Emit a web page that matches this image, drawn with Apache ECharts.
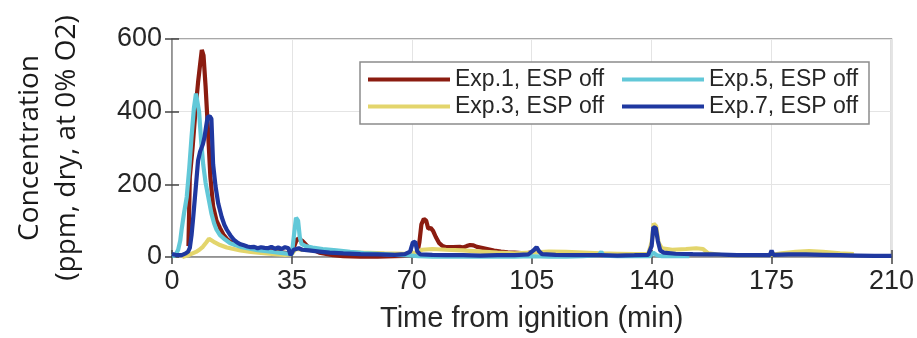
<!DOCTYPE html>
<html>
<head>
<meta charset="utf-8">
<script src="https://cdn.jsdelivr.net/npm/echarts@6/dist/echarts.min.js"></script>
<style>
  html, body { margin: 0; padding: 0; background: #fff; }
  #chart { width: 917px; height: 338px; }
</style>
</head>
<body>
<div id="chart"></div>
<script>
// Exp.1, ESP off
const t1 = [4.8, 5.2, 6, 7, 7.6, 8.2, 8.7, 9.2, 9.8, 10.5, 11.2, 12, 13, 14, 15, 16, 17, 18, 20, 22, 25, 28, 31, 34, 35, 36.5, 38, 40, 43, 47, 50, 55, 60, 65, 68, 70, 71.5, 72.2, 72.8, 73.5, 74.2, 74.8, 75.5, 76.2, 77, 78, 79, 80, 82, 84, 85, 86, 87, 88, 89, 90, 92, 94, 96, 98, 100, 102, 103.5, 104.5, 105];
const c1 = [30, 220, 300, 420, 480, 530, 570, 555, 470, 350, 220, 140, 100, 80, 62, 50, 42, 36, 30, 26, 22, 18, 14, 10, 12, 50, 45, 25, 12, 5, 2, 1, 1, 2, 3, 4, 6, 40, 90, 105, 100, 78, 80, 72, 55, 38, 30, 27, 27, 28, 26, 30, 33, 32, 28, 26, 22, 18, 15, 13, 12, 11, 10, 12, 9];

// Exp.3, ESP off
const t3 = [3, 4.5, 6, 7, 8, 9, 10, 10.8, 11.5, 12.5, 14, 16, 18, 20, 23, 26, 30, 33, 35, 36, 38, 42, 48, 55, 62, 68, 71, 73, 76, 80, 85, 90, 95, 100, 105, 110, 115, 120, 125, 130, 135, 139, 140, 140.6, 141.3, 142, 143, 146, 150, 153, 155, 156.5, 160, 165, 170, 175, 178, 182, 186, 190, 195, 199];
const c3 = [0, 4, 10, 14, 20, 28, 40, 50, 46, 40, 33, 26, 22, 18, 14, 11, 8, 6, 8, 22, 20, 18, 15, 12, 10, 9, 12, 20, 22, 20, 18, 15, 12, 10, 12, 15, 14, 12, 10, 9, 8, 8, 40, 92, 85, 40, 24, 20, 22, 24, 22, 10, 6, 5, 5, 6, 10, 14, 16, 14, 10, 8];

// Exp.5, ESP off
const t5 = [0, 1, 1.8, 2.4, 2.8, 3.5, 4.3, 5, 5.7, 6.4, 7, 7.4, 7.9, 8.5, 9.1, 9.8, 10.6, 11.5, 12.3, 13, 14, 15.5, 17, 18.5, 20, 22, 25, 27.6, 30, 33, 35, 35.6, 36.2, 36.8, 37.3, 37.8, 39, 41, 44, 48, 52, 56, 60, 65, 70, 72, 76, 80, 90, 100, 105, 110, 115, 120, 124.5, 125.3, 126, 130, 135, 139.5, 140.5, 141.5, 143, 146, 151];
const c5 = [2, 5, 20, 45, 75, 120, 165, 240, 330, 410, 450, 455, 400, 320, 255, 205, 165, 120, 92, 75, 60, 48, 38, 33, 28, 24, 19, 16, 13, 10, 8, 60, 108, 100, 55, 36, 30, 26, 22, 18, 14, 11, 9, 6, 4, 2, 1, 1, 1, 1, 2, 1, 1, 2, 5, 14, 4, 2, 2, 2, 12, 5, 2, 2, 2];

// Exp.7, ESP off
const t7 = [0, 1, 2, 3, 4, 4.7, 5.2, 5.7, 6.2, 6.7, 7.2, 7.6, 8.2, 9, 9.5, 10, 10.4, 11, 11.5, 12, 12.7, 13.5, 14.5, 15.3, 16, 17, 18, 19, 20, 21, 22, 23, 24, 25, 26, 27, 28, 29, 30, 31, 32, 33, 34, 34.6, 35, 35.5, 36, 37, 38, 40, 43, 46, 50, 55, 60, 65, 68, 69.5, 70.3, 71, 71.6, 72.5, 76, 80, 85, 90, 95, 100, 104, 105.5, 106.4, 107.2, 108, 112, 118, 125, 130, 135, 139, 140, 140.5, 141.2, 141.8, 142.5, 143.5, 147, 152, 158, 165, 170, 174.5, 175, 175.5, 180, 185, 190, 195, 200, 205, 210];
const c7 = [8, 6, 5, 6, 10, 15, 25, 60, 110, 165, 220, 265, 290, 310, 330, 362, 385, 388, 380, 255, 195, 147, 110, 88, 75, 60, 48, 40, 35, 32, 29, 27, 28, 24, 27, 25, 24, 28, 23, 26, 22, 27, 24, 5, 2, 20, 22, 24, 20, 18, 15, 12, 10, 8, 7, 6, 8, 15, 40, 42, 15, 7, 6, 5, 5, 4, 5, 5, 7, 18, 27, 15, 8, 6, 5, 5, 4, 5, 6, 30, 82, 80, 45, 18, 12, 9, 8, 7, 5, 5, 5, 18, 6, 7, 7, 6, 5, 4, 3, 3];

const xTicks = [0, 35, 70, 105, 140, 175, 210];
const yTicks = [0, 200, 400, 600];

const names = ["Exp.1, ESP off", "Exp.3, ESP off", "Exp.5, ESP off", "Exp.7, ESP off"];
const colors = ["#8b1c10", "#e3d56c", "#62c8d8", "#1f38a0"];

function pairs(t, c) {
  return t.map((x, i) => [x, c[i]]);
}

const font = "Liberation Sans, Arial, sans-serif";
const chart = echarts.init(document.getElementById("chart"));

const lineSeries = [[t1, c1], [t3, c3], [t5, c5], [t7, c7]].map((d, i) => ({
  type: "line",
  name: names[i],
  data: pairs(d[0], d[1]),
  showSymbol: false,
  lineStyle: { color: colors[i], width: 4.2 },
  itemStyle: { color: colors[i] },
  animation: false,
}));

const option = {
  animation: false,
  grid: {
    left: 172, right: 25, top: 39, bottom: 77,
    show: true, borderColor: "#8c8c8c", borderWidth: 1.5,
  },
  xAxis: [
    {
      type: "value",
      min: 0, max: 210, interval: 35,
      name: "Time from ignition (min)",
      nameLocation: "middle",
      nameGap: 47,
      nameTextStyle: { fontFamily: font, fontSize: 29, color: "#262626" },
      axisLine: { show: true, lineStyle: { color: "#8c8c8c", width: 1.5 } },
      axisTick: { show: true, inside: true, length: 7, lineStyle: { color: "#444", width: 1.5 } },
      axisLabel: { fontFamily: font, fontSize: 27, color: "#262626", margin: 11,
        formatter: (v) => xTicks.includes(v) ? String(v) : "" },
      splitLine: { show: true, lineStyle: { color: "#e4e4e4", width: 1 } },
    },
    {
      type: "value", position: "top",
      min: 0, max: 210, interval: 35,
      axisLine: { show: false },
      axisTick: { show: true, inside: true, length: 7, lineStyle: { color: "#444", width: 1.5 } },
      axisLabel: { show: false },
      splitLine: { show: false },
    },
  ],
  yAxis: [
    {
      type: "value",
      min: 0, max: 600, interval: 200,
      name: "Concentration\n(ppm, dry, at 0% O2)",
      nameLocation: "middle",
      nameGap: 86,
      nameTextStyle: { fontFamily: "Open Sans", fontSize: 28, lineHeight: 37, color: "#1a1a1a" },
      axisLine: { show: true, lineStyle: { color: "#8c8c8c", width: 1.5 } },
      axisTick: { show: true, inside: true, length: 7, lineStyle: { color: "#444", width: 1.5 } },
      axisLabel: { fontFamily: font, fontSize: 27, color: "#262626", margin: 10,
        formatter: (v) => yTicks.includes(v) ? String(v) : "" },
      splitLine: { show: true, lineStyle: { color: "#e4e4e4", width: 1 } },
    },
    {
      type: "value", position: "right",
      min: 0, max: 600, interval: 200,
      axisLine: { show: false },
      axisTick: { show: true, inside: true, length: 7, lineStyle: { color: "#444", width: 1.5 } },
      axisLabel: { show: false },
      splitLine: { show: false },
    },
  ],
  graphic: [
    {
      type: "rect", z: 3,
      shape: { x: 360, y: 62, width: 509, height: 62 },
      style: { fill: "#fff", stroke: "#8c8c8c", lineWidth: 1.5 },
    },
  ],
  legend: [
    {
      data: [names[0], names[1]],
      orient: "vertical",
      left: 368, top: 68, padding: 0,
      itemWidth: 82, itemHeight: 4, itemGap: 4,
      icon: "rect",
      textStyle: { fontFamily: font, fontSize: 23, color: "#262626" },
    },
    {
      data: [names[2], names[3]],
      orient: "vertical",
      left: 622, top: 68, padding: 0,
      itemWidth: 82, itemHeight: 4, itemGap: 4,
      icon: "rect",
      textStyle: { fontFamily: font, fontSize: 23, color: "#262626" },
    },
  ],
  series: lineSeries,
};

chart.setOption(option);
</script>
</body>
</html>
